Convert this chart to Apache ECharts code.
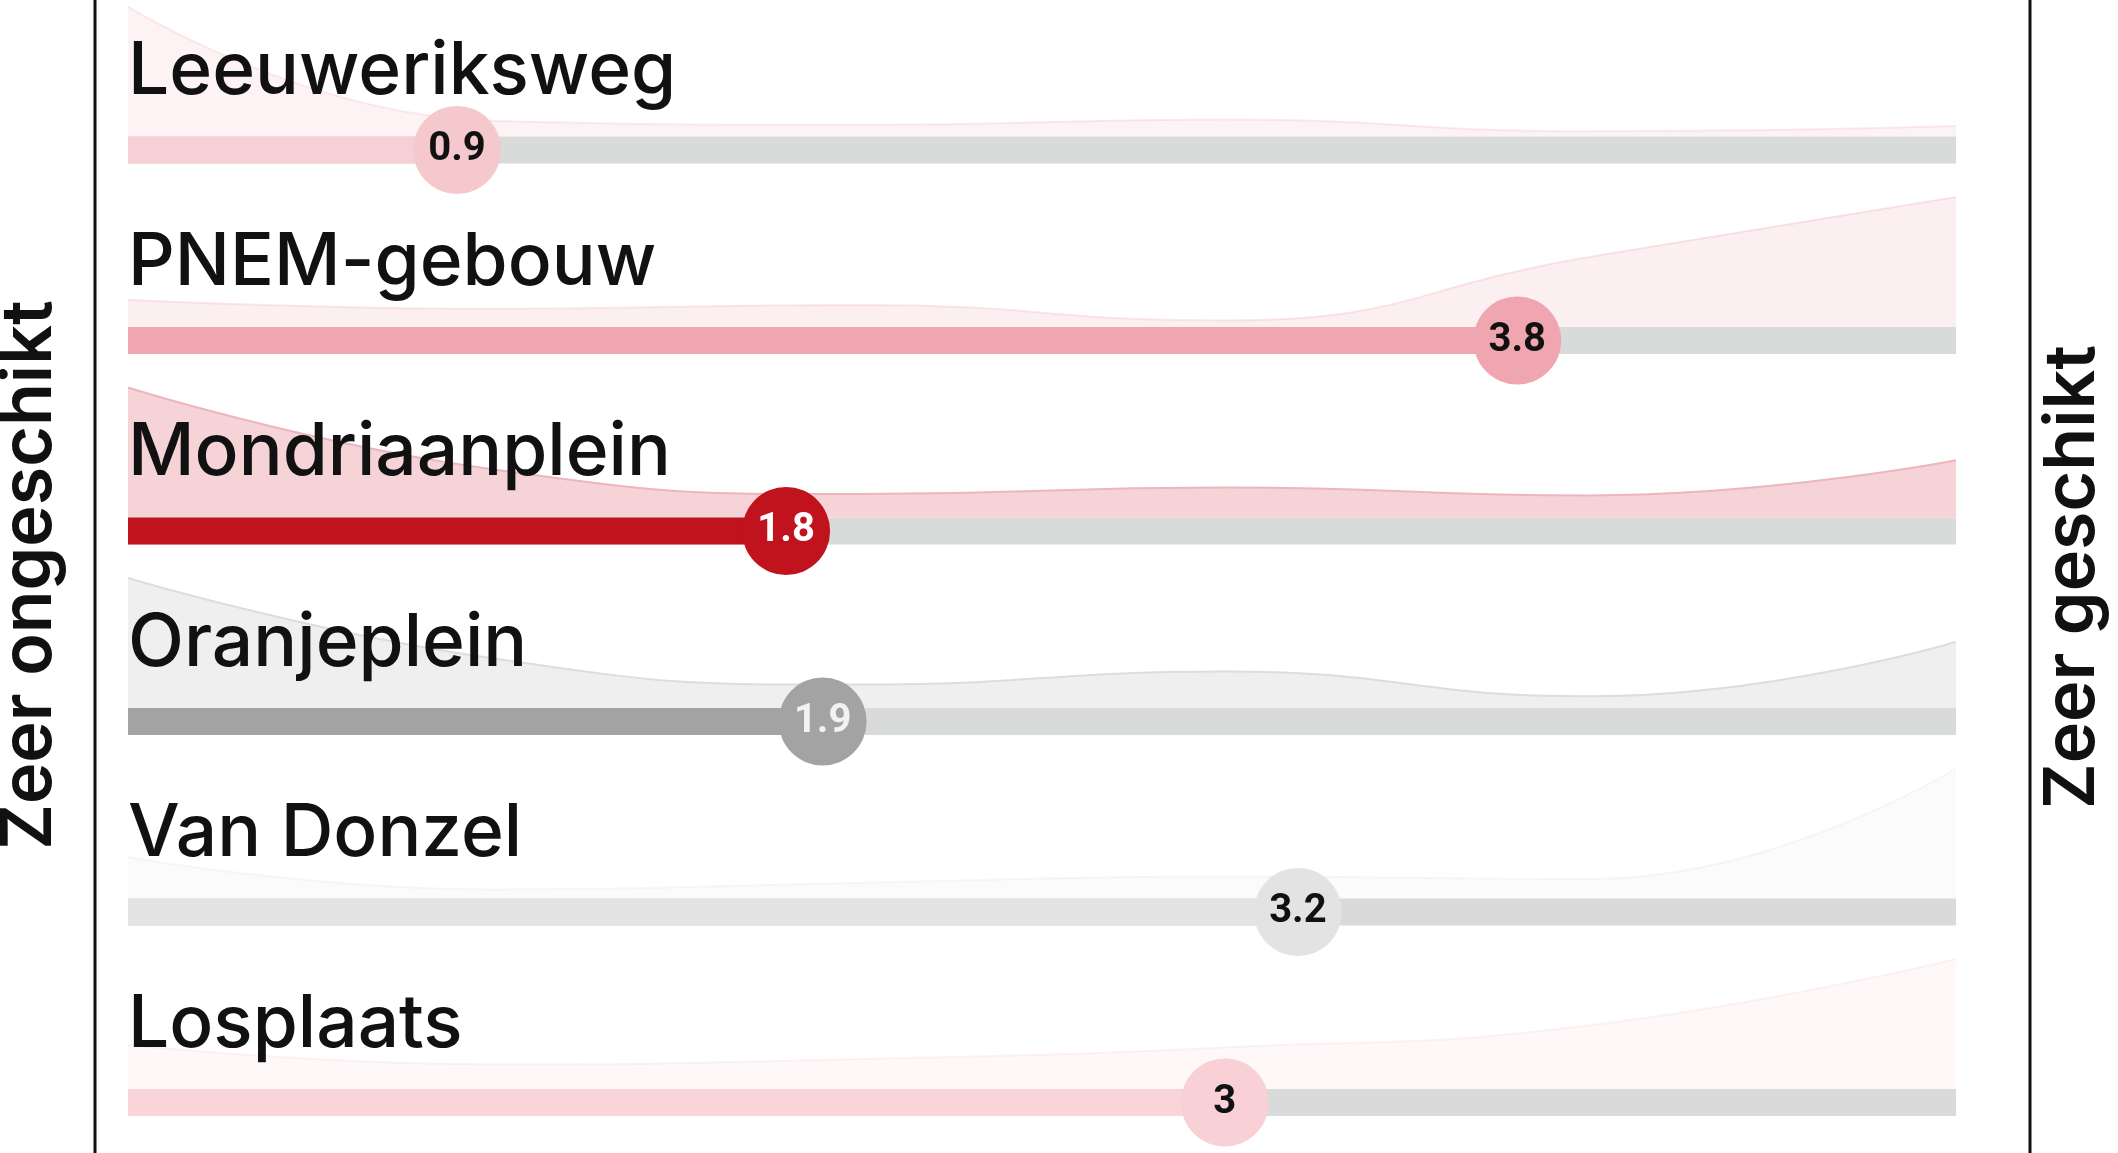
<!DOCTYPE html>
<html>
<head>
<meta charset="utf-8">
<script src="https://cdn.jsdelivr.net/npm/echarts@6/dist/echarts.min.js"></script>
<style>
  html, body { margin: 0; padding: 0; background: #fff; }
  #chart { width: 2118px; height: 1153px; }
</style>
</head>
<body>
<div id="chart"></div>
<script>
// locations, top to bottom
const places = ['Leeuweriksweg', 'PNEM-gebouw', 'Mondriaanplein', 'Oranjeplein', 'Van Donzel', 'Losplaats']
// average score on the 0-5 scale
const scores = [0.9, 3.8, 1.8, 1.9, 3.2, 3]
// answer steps of the scale
const steps = [0, 1, 2, 3, 4, 5]
// share of answers per step (largest step = 100)
const spreadLeeuweriksweg = [100, 12, 9, 13, 4, 8]
const spreadPnem = [21, 14, 17, 5, 54, 100]
const spreadMondriaanplein = [100, 37, 18, 23, 17, 44]
const spreadOranjeplein = [100, 38, 18, 28, 9, 51]
const spreadVanDonzel = [32, 7, 12, 17, 15, 100]
const spreadLosplaats = [34, 19, 23, 32, 49, 100]
const spreads = [spreadLeeuweriksweg, spreadPnem, spreadMondriaanplein, spreadOranjeplein, spreadVanDonzel, spreadLosplaats]
const sideLabels = ['Zeer ongeschikt', 'Zeer geschikt']

const styles = [
    {bar: '#f7d0d5', dot: '#f5c8ce', text: '#111', area: 'rgba(238,150,162,0.12)', line: 'rgba(238,150,162,0.18)'},
    {bar: '#f0a6b0', dot: '#f0a6b0', text: '#111', area: 'rgba(238,150,162,0.15)', line: 'rgba(238,150,162,0.22)'},
    {bar: '#c0131d', dot: '#c0131d', text: '#fff', area: '#f6d3d7', line: '#ebb6bc'},
    {bar: '#a3a3a3', dot: '#a3a3a3', text: '#f2f2f2', area: '#efefef', line: '#dddddd'},
    {bar: '#e3e3e3', dot: '#e3e3e3', text: '#111', area: 'rgba(200,200,200,0.08)', line: 'rgba(200,200,200,0.15)'},
    {bar: '#f9d5da', dot: '#f8d0d6', text: '#111', area: 'rgba(240,170,180,0.08)', line: 'rgba(240,170,180,0.14)'}
]

const track = '#d9dada'
const left = 128
const right = 162
const firstRow = 150
const rowGap = 190.5
const barH = 27
const areaH = 130

const grids = []
const xAxes = []
const yAxes = []
const series = []
const graphics = []

places.forEach((name, i) => {
    const center = firstRow + i * rowGap
    const st = styles[i]
    const ga = i * 2
    const gb = i * 2 + 1

    // spread area, sitting on top of the bar
    grids.push({left: left, right: right, top: center - barH / 2 - areaH, height: areaH})
    xAxes.push({gridIndex: ga, type: 'value', min: 0, max: 5, show: false})
    yAxes.push({gridIndex: ga, type: 'value', min: 0, max: 100, show: false})
    series.push({
        type: 'line',
        xAxisIndex: ga,
        yAxisIndex: ga,
        data: steps.map((s, k) => [s, spreads[i][k]]),
        smooth: 0.5,
        symbol: 'none',
        lineStyle: {color: st.line, width: 2},
        areaStyle: {color: st.area, opacity: 1},
        silent: true,
        z: 1
    })

    // bar track + progress + dot
    grids.push({left: left, right: right, top: center - barH / 2, height: barH})
    xAxes.push({gridIndex: gb, type: 'value', min: 0, max: 5, show: false})
    yAxes.push({gridIndex: gb, type: 'category', data: [name], show: false})
    series.push({
        type: 'bar',
        xAxisIndex: gb,
        yAxisIndex: gb,
        data: [5],
        barWidth: barH,
        itemStyle: {color: track},
        silent: true,
        z: 2
    })
    series.push({
        type: 'bar',
        xAxisIndex: gb,
        yAxisIndex: gb,
        data: [scores[i]],
        barWidth: barH,
        barGap: '-100%',
        itemStyle: {color: st.bar},
        silent: true,
        z: 3
    })
    series.push({
        type: 'scatter',
        xAxisIndex: gb,
        yAxisIndex: gb,
        data: [[scores[i], 0]],
        symbol: 'circle',
        symbolSize: 88,
        clip: false,
        itemStyle: {color: st.dot, opacity: 1},
        label: {
            show: true,
            position: 'inside',
            formatter: p => String(p.value[0]),
            color: st.text,
            fontFamily: 'Roboto',
            fontWeight: 'bold',
            fontSize: 40
        },
        silent: true,
        z: 4
    })

    graphics.push({
        type: 'text',
        left: left,
        top: center - 57 - 57,
        z: 100,
        style: {
            text: name,
            fill: '#111',
            font: '500 73px Inter'
        }
    })
})

// side lines and side texts
graphics.push(
    {type: 'line', z: 100, shape: {x1: 95, y1: 0, x2: 95, y2: 1153}, style: {stroke: '#111', lineWidth: 3}},
    {type: 'line', z: 100, shape: {x1: 2030, y1: 0, x2: 2030, y2: 1153}, style: {stroke: '#111', lineWidth: 3}},
    {
        type: 'text', z: 100, x: 30, y: 575, rotation: Math.PI / 2,
        style: {text: sideLabels[0], fill: '#111', font: '600 70px Inter', align: 'center', verticalAlign: 'middle'}
    },
    {
        type: 'text', z: 100, x: 2073, y: 577, rotation: Math.PI / 2,
        style: {text: sideLabels[1], fill: '#111', font: '600 70px Inter', align: 'center', verticalAlign: 'middle'}
    }
)

const chart = echarts.init(document.getElementById('chart'))
chart.setOption({
    animation: false,
    grid: grids,
    xAxis: xAxes,
    yAxis: yAxes,
    series: series,
    graphic: graphics
})
</script>
</body>
</html>
